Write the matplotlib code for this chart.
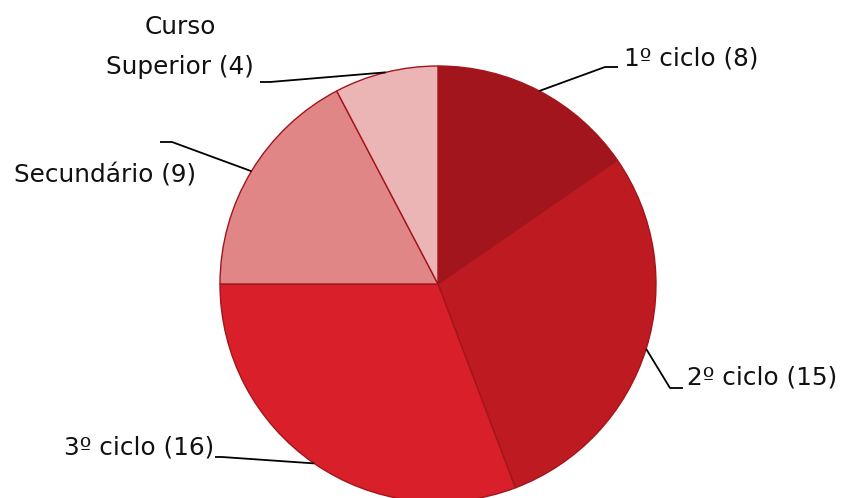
import numpy as np
import matplotlib.pyplot as plt

labels = ['1º ciclo', '2º ciclo', '3º ciclo', 'Secundário', 'Curso\nSuperior']
counts = [8, 15, 16, 9, 4]
colors = ['#A3151C', '#BE1A22', '#D91F2A', '#E08686', '#EBB5B5']

# layout in pixel coordinates (y up)
W, H = 845, 498
cx, cy, r = 438, H - 284, 218

fig = plt.figure(figsize=(W / 100, H / 100), dpi=100)
ax = fig.add_axes([0, 0, 1, 1])
wedges, _ = ax.pie(counts, colors=colors, startangle=90, counterclock=False,
                   center=(cx, cy), radius=r,
                   wedgeprops=dict(edgecolor='#A3151C', linewidth=1.0))
ax.set_xlim(0, W)
ax.set_ylim(0, H)
ax.set_aspect('equal')
ax.axis('off')

# leader lines: (elbow, end) and text anchor per label
label_pos = [
    ((605, H - 67), (618, H - 67), (624, H - 58), 'left'),
    ((670, H - 388), (683, H - 388), (687, H - 378), 'left'),
    ((222, H - 457), (215, H - 457), (214, H - 447), 'right'),
    ((172, H - 142), (160, H - 142), (196, H - 175), 'right'),
    ((270, H - 82), (260, H - 82), (254, H - 47), 'right'),
]

for w, lab, n, (elbow, end, tpos, ha) in zip(wedges, labels, counts, label_pos):
    ang = np.deg2rad((w.theta1 + w.theta2) / 2)
    ex, ey = cx + r * np.cos(ang), cy + r * np.sin(ang)
    ax.plot([ex, elbow[0], end[0]], [ey, elbow[1], end[1]], color='black', lw=1.3,
            solid_capstyle='butt')
    ax.text(tpos[0], tpos[1], f'{lab} ({n})', ha=ha, va='center', fontsize=17.8,
            family='DejaVu Sans', multialignment='center', linespacing=1.8,
            color='#111111')

fig.savefig('out.png', dpi=100)
